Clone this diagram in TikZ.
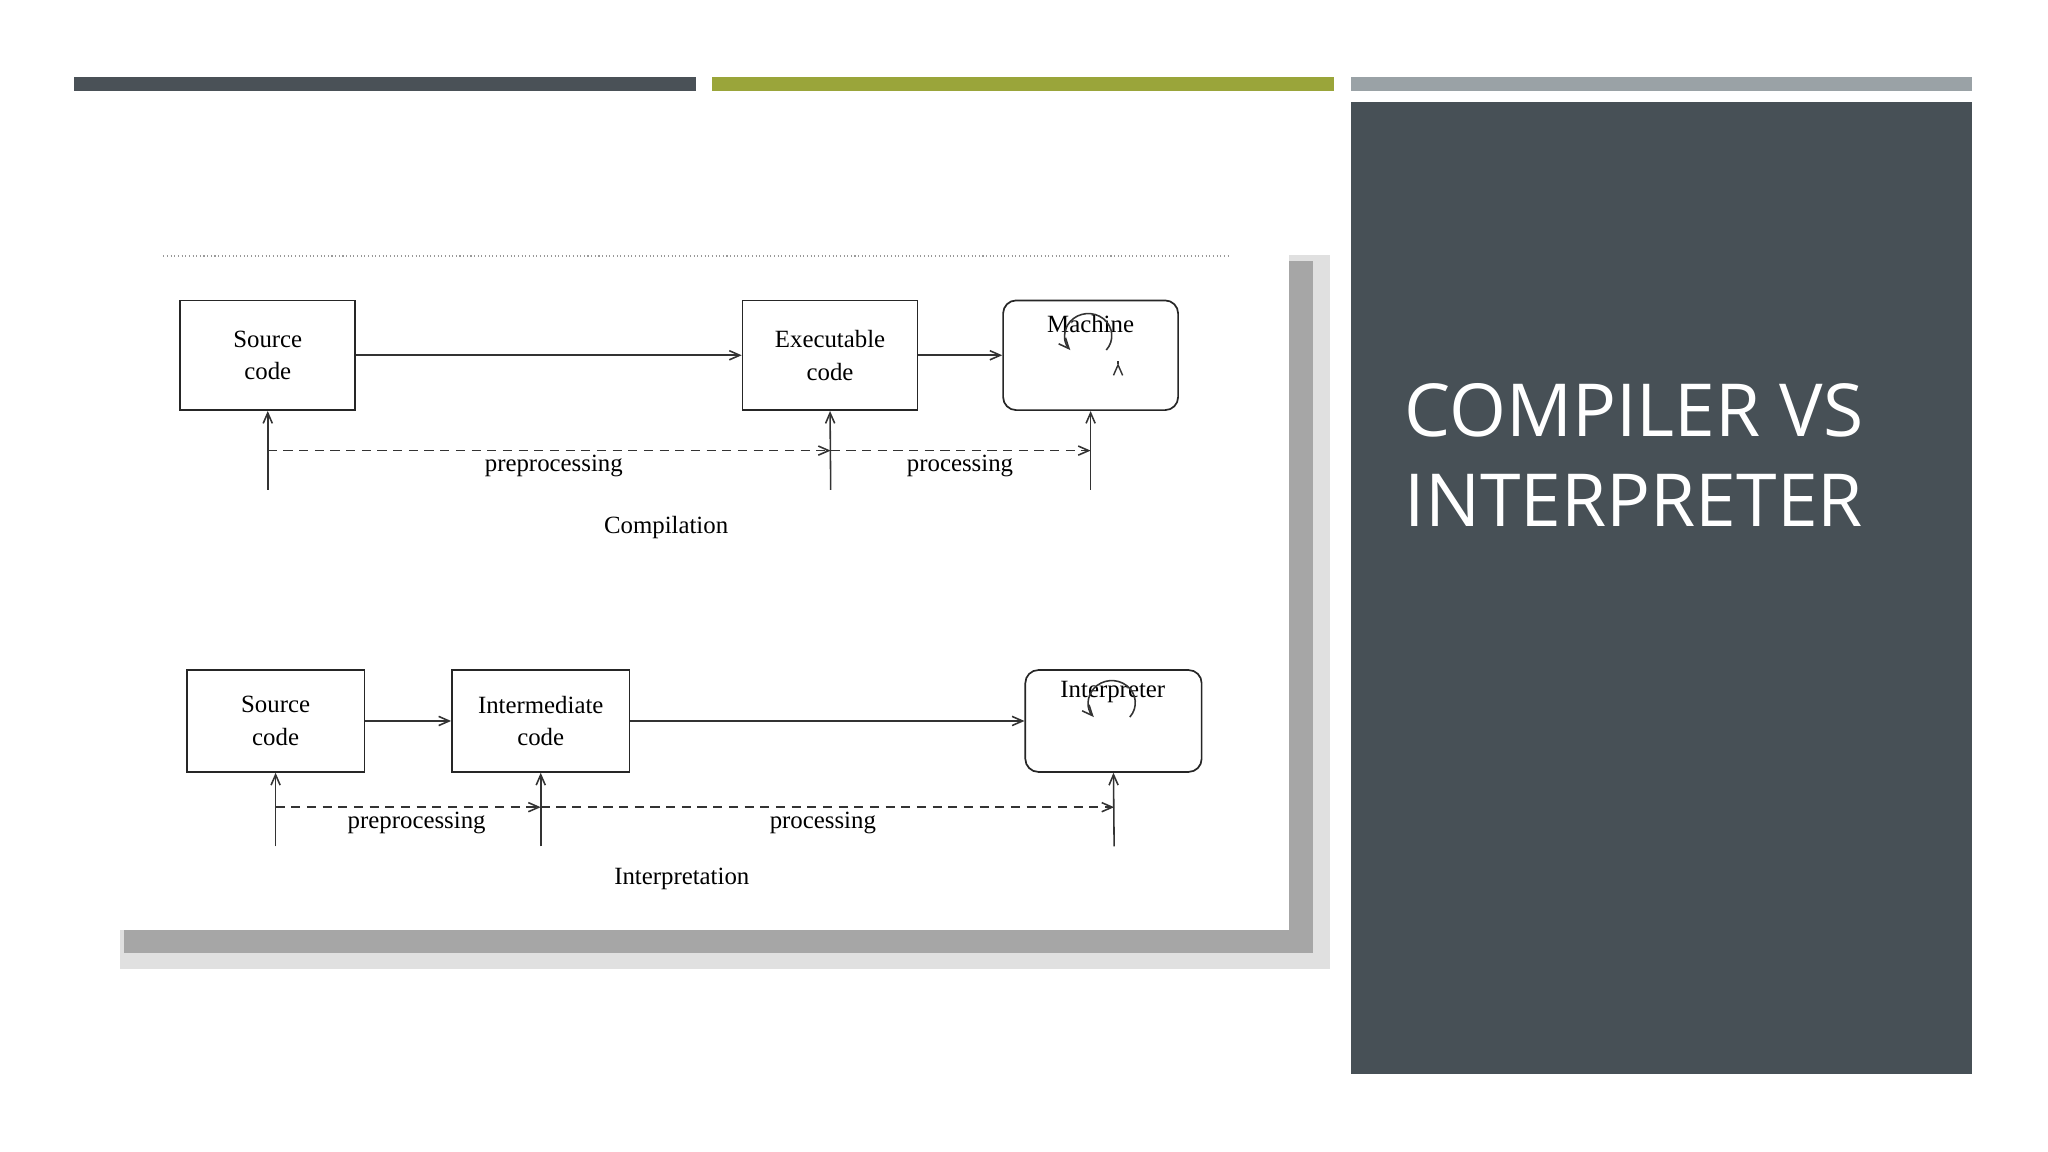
\documentclass[tikz,border=0pt]{standalone}
\usepackage{fontspec}
\setmainfont{Liberation Serif}
\newfontfamily\titlefont{Open Sans}
\usetikzlibrary{arrows.meta}
\definecolor{darkbar}{HTML}{4A5157}
\definecolor{olive}{HTML}{9AA53A}
\definecolor{graybar}{HTML}{9AA2A6}
\definecolor{panel}{HTML}{475056}
\tikzset{
 box/.style={draw=black!85,line width=1.3pt,minimum width=134pt,minimum height=84pt,align=center,font=\fontsize{19}{25}\selectfont},
 rbox/.style={box,rounded corners=10pt},
 arr/.style={-{Straight Barb[length=8pt,width=7pt]},line width=1.2pt,draw=black!80},
 darr/.style={arr,dash pattern=on 7pt off 5pt},
 lbl/.style={font=\fontsize{19}{22}\selectfont}
}
\begin{document}
\begin{tikzpicture}[x=1pt,y=-1pt]
\useasboundingbox (0,0) rectangle (1568,882);
\fill[white] (0,0) rectangle (1568,882);
% bars
\fill[darkbar] (57,59) rectangle (533,70);
\fill[olive] (545,59) rectangle (1021,70);
\fill[graybar] (1034,59) rectangle (1510,70);
\fill[panel] (1034,78) rectangle (1510,822);
\node[anchor=north west,text=white,align=left,font=\titlefont\fontsize{56}{69}\selectfont] (title) at (1072,290) {COMPILER VS\\INTERPRETER};
% image shadow & frame
\fill[black!12] (92,700) rectangle (1018,742);
\fill[black!12] (985,195) rectangle (1018,742);
\fill[black!35] (95,712) rectangle (1005,730);
\fill[black!35] (987,200) rectangle (1005,730);
\fill[white] (80,188) rectangle (987,712);
\draw[black!40,dotted,line width=0.8pt] (125,196) -- (940,196);
% compilation
\node[box] (s1) at (205,272) {Source\\code};
\node[box] (e1) at (635.5,272) {Executable\\code};
\node[rbox] (m1) at (835,272) {};
\node[lbl] (m1t) at (835,248) {Machine};
\draw[arr] (s1) -- (e1);
\draw[arr] (e1) -- (m1);
\draw[arr,line width=1.1pt] (856,278) arc[start angle=20,end angle=330,radius=-0pt] ;
\draw[arr] (847,268) arc[start angle=40,end angle=-220,x radius=18pt,y radius=-17pt];
\coordinate (a1) at (205,375); \coordinate (b1) at (636,375); \coordinate (c1) at (835,375);
\draw[arr] (a1) -- (s1.south);
\draw[arr] (b1) -- (e1.south);
\draw[arr] (c1) -- (m1.south);
\coordinate (d1) at (205,345); \coordinate (d2) at (636,345); \coordinate (d3) at (835,345);
\draw[darr] (d1) -- (d2);
\draw[darr] (d2) -- (d3);
\node[lbl] (p1) at (424,357) {preprocessing};
\node[lbl] (q1) at (735,357) {processing};
\node[lbl] (cap1) at (510,404) {Compilation};
% interpretation
\node[box,minimum width=136pt,minimum height=78pt] (s2) at (211,552) {Source\\code};
\node[box,minimum width=136pt,minimum height=78pt] (i2) at (414,552) {Intermediate\\code};
\node[rbox,minimum width=135pt,minimum height=78pt] (n2) at (852.5,552) {};
\node[lbl] (n2t) at (852,530) {Interpreter};
\draw[arr] (s2) -- (i2);
\draw[arr] (i2) -- (n2);
\draw[arr] (865,549) arc[start angle=40,end angle=-220,x radius=18pt,y radius=-17pt];
\coordinate (a2) at (211,648); \coordinate (b2) at (414,648); \coordinate (c2) at (853,648);
\draw[arr] (a2) -- (s2.south);
\draw[arr] (b2) -- (i2.south);
\draw[arr] (c2) -- (n2.south);
\coordinate (f1) at (211,618); \coordinate (f2) at (414,618); \coordinate (f3) at (853,618);
\draw[darr] (f1) -- (f2);
\draw[darr] (f2) -- (f3);
\node[lbl] (p2) at (319,630) {preprocessing};
\node[lbl] (q2) at (630,630) {processing};
\node[lbl] (cap2) at (522,673) {Interpretation};
\end{tikzpicture}
\end{document}
